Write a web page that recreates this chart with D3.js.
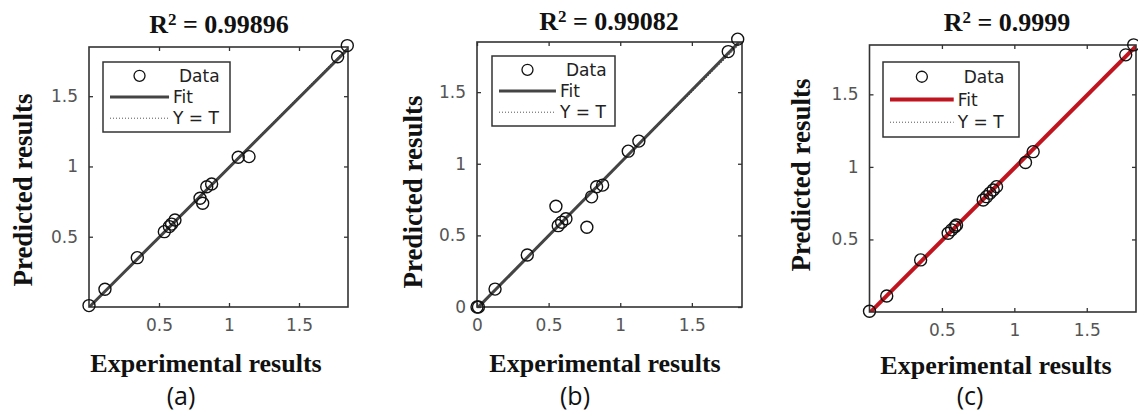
<!DOCTYPE html>
<html>
<head>
<meta charset="utf-8">
<script src="https://cdn.jsdelivr.net/npm/d3@7/dist/d3.min.js"></script>
<style>
  html, body { margin: 0; padding: 0; background: #fff; }
  svg { display: block; }
</style>
</head>
<body>
<svg id="chart" width="1138" height="418"></svg>
<script>
// ---------- data ----------
const panelLabels = ["(a)", "(b)", "(c)"];
const r2Values = ["0.99896", "0.99082", "0.9999"];
const xLabel = "Experimental results";
const yLabel = "Predicted results";
const legendLabels = ["Data", "Fit", "Y = T"];

const ticksA = [0.5, 1, 1.5];
const ticksB = [0, 0.5, 1, 1.5];
const ticksC = [0.5, 1, 1.5];

const domainA = [0, 1.85];
const domainB = [0, 1.85];
const domainC = [0, 1.84];

const expA  = [0.00, 0.114, 0.345, 0.538, 0.574, 0.59, 0.614, 0.793, 0.812, 0.841, 0.876, 1.066, 1.143, 1.776, 1.845];
const predA = [0.01, 0.126, 0.351, 0.536, 0.572, 0.59, 0.619, 0.774, 0.738, 0.856, 0.875, 1.065, 1.070, 1.781, 1.860];

const expB  = [0.00, 0.01, 0.126, 0.351, 0.551, 0.567, 0.591, 0.621, 0.767, 0.800, 0.835, 0.877, 1.056, 1.130, 1.754, 1.820];
const predB = [0.00, 0.00, 0.125, 0.363, 0.703, 0.568, 0.592, 0.616, 0.557, 0.769, 0.840, 0.851, 1.088, 1.158, 1.783, 1.870];

const expC  = [0.00, 0.119, 0.353, 0.543, 0.567, 0.590, 0.601, 0.785, 0.808, 0.831, 0.854, 0.877, 1.077, 1.130, 1.769, 1.824];
const predC = [0.005, 0.110, 0.359, 0.543, 0.566, 0.588, 0.600, 0.772, 0.795, 0.819, 0.841, 0.864, 1.030, 1.105, 1.772, 1.841];

// ---------- layout / style ----------
const panels = [
  { exp: expA, pred: predA, ticks: ticksA, domain: domainA, r2: r2Values[0], label: panelLabels[0],
    box: { x: 89, y: 47, w: 259, h: 260 }, fit: "#444444", fitW: 3,
    title: { x: 219, y: 33 }, xl: { x: 206, y: 372 }, yl: { x: 32, y: 190 }, pl: { x: 181, y: 405 },
    legend: { x: 103, y: 62, w: 127, h: 70 } },
  { exp: expB, pred: predB, ticks: ticksB, domain: domainB, r2: r2Values[1], label: panelLabels[1],
    box: { x: 477, y: 42, w: 265, h: 265 }, fit: "#444444", fitW: 3,
    title: { x: 609, y: 30 }, xl: { x: 605, y: 372 }, yl: { x: 422, y: 192 }, pl: { x: 575, y: 405 },
    legend: { x: 492, y: 56, w: 123, h: 70 } },
  { exp: expC, pred: predC, ticks: ticksC, domain: domainC, r2: r2Values[2], label: panelLabels[2],
    box: { x: 869.5, y: 45, w: 266.5, h: 267 }, fit: "#c0141e", fitW: 4,
    title: { x: 1007, y: 31 }, xl: { x: 996, y: 374 }, yl: { x: 810, y: 175 }, pl: { x: 970, y: 405 },
    legend: { x: 883, y: 62, w: 136, h: 75 } }
];

const svg = d3.select("#chart");
svg.append("rect").attr("width", 1138).attr("height", 418).attr("fill", "#fff");

const serif = "'Liberation Serif', 'Times New Roman', serif";
const sans = "'DejaVu Sans', sans-serif";

panels.forEach((p, i) => {
  const g = svg.append("g");
  const x = d3.scaleLinear().domain(p.domain).range([p.box.x, p.box.x + p.box.w]);
  const y = d3.scaleLinear().domain(p.domain).range([p.box.y + p.box.h, p.box.y]);

  const clipId = "clip" + i;
  svg.append("defs").append("clipPath").attr("id", clipId)
    .append("rect").attr("x", p.box.x).attr("y", p.box.y).attr("width", p.box.w).attr("height", p.box.h);

  // Y = T dotted line
  g.append("line")
    .attr("clip-path", `url(#${clipId})`)
    .attr("x1", x(p.domain[0])).attr("y1", y(p.domain[0]))
    .attr("x2", x(p.domain[1])).attr("y2", y(p.domain[1]))
    .attr("stroke", "#333").attr("stroke-width", 1).attr("stroke-dasharray", "1,2");

  // least-squares fit
  const mx = d3.mean(p.exp), my = d3.mean(p.pred);
  const sxy = d3.sum(p.exp, (v, k) => (v - mx) * (p.pred[k] - my));
  const sxx = d3.sum(p.exp, v => (v - mx) * (v - mx));
  const slope = sxy / sxx, icpt = my - slope * mx;
  const fitLine = d3.line().x(d => x(d)).y(d => y(slope * d + icpt));
  g.append("path")
    .attr("clip-path", `url(#${clipId})`)
    .attr("d", fitLine(p.domain))
    .attr("fill", "none").attr("stroke", p.fit).attr("stroke-width", p.fitW);

  // axes: ticks inward on all four sides
  const tickLen = 4;
  const axB = d3.axisBottom(x).tickValues(p.ticks).tickSize(-tickLen).tickPadding(12).tickFormat(d3.format("~g"));
  const axL = d3.axisLeft(y).tickValues(p.ticks).tickSize(-tickLen).tickPadding(11).tickFormat(d3.format("~g"));
  const axT = d3.axisTop(x).tickValues(p.ticks).tickSize(-tickLen).tickFormat("");
  const axR = d3.axisRight(y).tickValues(p.ticks).tickSize(-tickLen).tickFormat("");

  const gb = g.append("g").attr("transform", `translate(0,${p.box.y + p.box.h})`).call(axB);
  const gl = g.append("g").attr("transform", `translate(${p.box.x},0)`).call(axL);
  const gt = g.append("g").attr("transform", `translate(0,${p.box.y})`).call(axT);
  const gr = g.append("g").attr("transform", `translate(${p.box.x + p.box.w},0)`).call(axR);
  [gb, gl, gt, gr].forEach(a => {
    a.select(".domain").remove();
    a.selectAll(".tick line").attr("stroke", "#333").attr("stroke-width", 1.3);
    a.selectAll("text").attr("fill", "#555").style("font-family", sans).style("font-size", "17px");
  });

  // frame
  g.append("rect")
    .attr("x", p.box.x).attr("y", p.box.y).attr("width", p.box.w).attr("height", p.box.h)
    .attr("fill", "none").attr("stroke", "#333").attr("stroke-width", 1.6);

  // data markers
  g.selectAll("circle.pt").data(p.exp).join("circle")
    .attr("class", "pt")
    .attr("cx", d => x(d)).attr("cy", (d, k) => y(p.pred[k]))
    .attr("r", 6)
    .attr("fill", "none").attr("stroke", "#111").attr("stroke-width", 1.4);

  // legend
  const L = p.legend;
  const lg = g.append("g");
  lg.append("rect").attr("x", L.x).attr("y", L.y).attr("width", L.w).attr("height", L.h)
    .attr("fill", "#fff").attr("stroke", "#333").attr("stroke-width", 1.5);
  const rowH = L.h / 3.3;
  const r0 = L.y + rowH * 0.65;
  const lineX1 = L.x + 7, lineX2 = L.x + L.w * 0.52;
  const textX = lineX2 + 4;
  legendLabels.forEach((t, k) => {
    const ry = r0 + k * rowH;
    if (k === 0) {
      lg.append("circle").attr("cx", (lineX1 + lineX2) / 2).attr("cy", ry).attr("r", 5.5)
        .attr("fill", "none").attr("stroke", "#111").attr("stroke-width", 1.3);
    } else if (k === 1) {
      lg.append("line").attr("x1", lineX1).attr("x2", lineX2).attr("y1", ry).attr("y2", ry)
        .attr("stroke", p.fit).attr("stroke-width", p.fitW);
    } else {
      lg.append("line").attr("x1", lineX1).attr("x2", lineX2).attr("y1", ry).attr("y2", ry)
        .attr("stroke", "#555").attr("stroke-width", 1).attr("stroke-dasharray", "1,2");
    }
    lg.append("text").attr("x", k === 0 ? textX + 6 : textX).attr("y", ry).attr("dy", "0.36em")
      .attr("fill", "#222").style("font-family", sans).style("font-size", "17px").text(t);
  });

  // title with superscript
  const tt = g.append("text").attr("x", p.title.x).attr("y", p.title.y).attr("text-anchor", "middle")
    .style("font-family", serif).style("font-weight", "bold").style("font-size", "26px").attr("fill", "#111");
  tt.append("tspan").text("R");
  tt.append("tspan").attr("dy", -8).style("font-size", "17px").text("2");
  tt.append("tspan").attr("dy", 8).text(" = " + p.r2);

  // axis labels
  g.append("text").attr("x", p.xl.x).attr("y", p.xl.y).attr("text-anchor", "middle")
    .style("font-family", serif).style("font-weight", "bold").style("font-size", "26px").attr("fill", "#111")
    .text(xLabel);
  g.append("text").attr("transform", `translate(${p.yl.x},${p.yl.y}) rotate(-90)`).attr("text-anchor", "middle")
    .style("font-family", serif).style("font-weight", "bold").style("font-size", "27px").attr("fill", "#111")
    .text(yLabel);

  // panel label
  g.append("text").attr("x", p.pl.x).attr("y", p.pl.y).attr("text-anchor", "middle")
    .style("font-family", "'Open Sans', sans-serif").style("font-size", "25px").attr("fill", "#111")
    .text(p.label);
});
</script>
</body>
</html>
